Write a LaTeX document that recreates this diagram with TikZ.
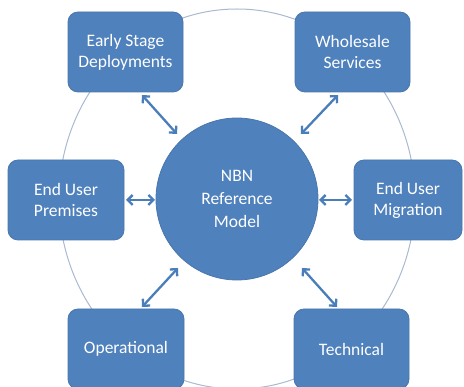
\documentclass[tikz,border=0pt]{standalone}
\usepackage{fontspec}
\setmainfont{Carlito}
\usetikzlibrary{arrows.meta}
\definecolor{boxblue}{HTML}{4F81BD}
\definecolor{boxedge}{HTML}{4A76AC}
\definecolor{arrowblue}{HTML}{4A7EBB}
\definecolor{ringcol}{HTML}{A9BAD0}
\tikzset{
  unitbox/.style={draw=boxedge, line width=0.8pt, fill=boxblue, rounded corners=10pt,
    text=white, align=center, font=\fontsize{17.5}{21}\selectfont, inner sep=0pt},
  link/.style={draw=arrowblue, line width=2.3pt, {Straight Barb[length=5pt,width=10pt]}-{Straight Barb[length=5pt,width=10pt]}},
  ring/.style={draw=ringcol, line width=1pt}
}
\begin{document}
\begin{tikzpicture}[x=1pt,y=-1pt]
\useasboundingbox (0,0) rectangle (464,387);
\draw[ring] (237,199) ellipse [x radius=178, y radius=190];
\node[draw=boxedge, line width=0.8pt, fill=boxblue, circle, minimum size=162pt, inner sep=0pt,
  text=white, align=center, font=\fontsize{17.5}{23}\selectfont] (nbn) at (237,199) {NBN\\Reference\\Model};
\node[unitbox, minimum width=115pt, minimum height=80pt] (early) at (125.5,52) {Early Stage\\Deployments};
\node[unitbox, minimum width=115pt, minimum height=80pt] (whole) at (352.5,52) {Wholesale\\Services};
\node[unitbox, minimum width=116pt, minimum height=80pt] (prem) at (66,200) {End User\\Premises};
\node[unitbox, minimum width=108pt, minimum height=80pt] (migr) at (408,200) {End User\\Migration};
\node[unitbox, minimum width=116pt, minimum height=80pt] (oper) at (126,349) {Operational};
\node[unitbox, minimum width=115pt, minimum height=80pt] (tech) at (351.5,349) {Technical};
\coordinate (a1) at (142,95);  \coordinate (b1) at (177,134);
\coordinate (a2) at (338,95);  \coordinate (b2) at (301,134);
\coordinate (a3) at (178,268); \coordinate (b3) at (142,307);
\coordinate (a4) at (302,268); \coordinate (b4) at (337,307);
\coordinate (a5) at (126,200); \coordinate (b5) at (155,200);
\coordinate (a6) at (319,200); \coordinate (b6) at (352,200);
\draw[link] (a1) -- (b1);
\draw[link] (a2) -- (b2);
\draw[link] (a3) -- (b3);
\draw[link] (a4) -- (b4);
\draw[link] (a5) -- (b5);
\draw[link] (a6) -- (b6);
\end{tikzpicture}
\end{document}
